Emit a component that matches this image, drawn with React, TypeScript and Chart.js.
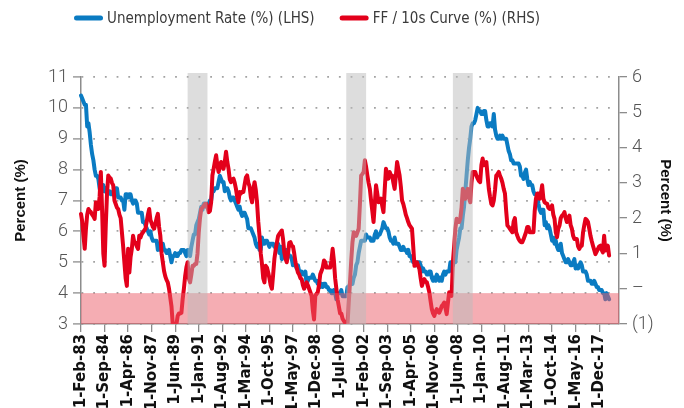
import React, { useEffect, useRef } from "react";
import { Chart, registerables } from "chart.js";

Chart.register(...registerables);

// ---------- categories (monthly, 1-Feb-83 onwards) ----------
const START_YEAR = 1983;
const START_MONTH = 1; // February (0-based)
const AXIS_MONTHS = 435;
const LABEL_STEP = 19;
const MONTH_NAMES = ["Jan", "Feb", "Mar", "Apr", "May", "Jun", "Jul", "Aug", "Sep", "Oct", "Nov", "Dec"];

const categories: string[] = Array.from({ length: AXIS_MONTHS }, (_, i) => {
  const m = (START_MONTH + i) % 12;
  const y = START_YEAR + Math.floor((START_MONTH + i) / 12);
  return `1-${MONTH_NAMES[m]}-${String(y % 100).padStart(2, "0")}`;
});

// ---------- series ----------
const unemploymentLabel = "Unemployment Rate (%) (LHS)";
const curveLabel = "FF / 10s Curve (%) (RHS)";

const unemployment: number[] = [
  10.4, 10.3, 10.2, 10.1, 10.1, 9.4, 9.5, 9.2, 8.8, 8.5, 8.3,
  8.0, 7.8, 7.8, 7.7, 7.4, 7.2, 7.5, 7.5, 7.3, 7.4, 7.2, 7.3,
  7.3, 7.2, 7.2, 7.3, 7.2, 7.4, 7.4, 7.1, 7.1, 7.1, 7.0, 7.0,
  6.7, 7.2, 7.2, 7.1, 7.2, 7.2, 7.0, 6.9, 7.0, 7.0, 6.9, 6.6,
  6.6, 6.6, 6.6, 6.3, 6.3, 6.2, 6.1, 6.0, 5.9, 6.0, 5.8, 5.7,
  5.7, 5.7, 5.7, 5.4, 5.6, 5.4, 5.4, 5.6, 5.4, 5.4, 5.3, 5.3,
  5.4, 5.2, 5.0, 5.2, 5.2, 5.3, 5.2, 5.2, 5.3, 5.3, 5.4, 5.4,
  5.4, 5.3, 5.2, 5.4, 5.4, 5.2, 5.5, 5.7, 5.9, 5.9, 6.2, 6.3,
  6.4, 6.6, 6.8, 6.7, 6.9, 6.9, 6.8, 6.9, 6.9, 7.0, 7.0, 7.3,
  7.3, 7.4, 7.4, 7.4, 7.6, 7.8, 7.7, 7.6, 7.6, 7.3, 7.4, 7.4,
  7.3, 7.1, 7.0, 7.1, 7.1, 7.0, 6.9, 6.8, 6.7, 6.8, 6.6, 6.5,
  6.6, 6.6, 6.5, 6.4, 6.1, 6.1, 6.1, 6.0, 5.9, 5.8, 5.6, 5.5,
  5.6, 5.4, 5.4, 5.8, 5.6, 5.6, 5.7, 5.7, 5.6, 5.5, 5.6, 5.6,
  5.6, 5.5, 5.5, 5.6, 5.6, 5.3, 5.5, 5.1, 5.2, 5.2, 5.4, 5.4,
  5.3, 5.2, 5.2, 5.1, 4.9, 5.0, 4.9, 4.8, 4.9, 4.7, 4.6, 4.7,
  4.6, 4.6, 4.7, 4.3, 4.4, 4.5, 4.5, 4.5, 4.6, 4.5, 4.4, 4.4,
  4.3, 4.4, 4.2, 4.3, 4.2, 4.3, 4.3, 4.2, 4.2, 4.1, 4.1, 4.0,
  4.0, 4.1, 4.0, 3.8, 4.0, 4.0, 4.0, 4.1, 3.9, 3.9, 3.9, 3.9,
  4.2, 4.2, 4.3, 4.4, 4.3, 4.5, 4.6, 4.9, 5.0, 5.3, 5.5, 5.7,
  5.7, 5.7, 5.7, 5.9, 5.8, 5.8, 5.8, 5.7, 5.7, 5.7, 5.9, 6.0,
  5.8, 5.9, 5.9, 6.0, 6.1, 6.3, 6.2, 6.1, 6.1, 6.0, 5.8, 5.7,
  5.7, 5.6, 5.8, 5.6, 5.6, 5.6, 5.5, 5.4, 5.4, 5.5, 5.4, 5.4,
  5.3, 5.4, 5.2, 5.2, 5.1, 5.0, 5.0, 4.9, 5.0, 5.0, 5.0, 4.9,
  4.7, 4.8, 4.7, 4.7, 4.6, 4.6, 4.7, 4.7, 4.5, 4.4, 4.5, 4.4,
  4.6, 4.5, 4.4, 4.5, 4.4, 4.6, 4.7, 4.6, 4.7, 4.7, 4.7, 5.0,
  5.0, 4.9, 5.1, 5.0, 5.4, 5.6, 5.8, 6.1, 6.1, 6.5, 6.8, 7.3,
  7.8, 8.3, 8.7, 9.0, 9.4, 9.5, 9.5, 9.6, 9.8, 10.0, 9.9, 9.9,
  9.8, 9.8, 9.9, 9.9, 9.6, 9.4, 9.4, 9.5, 9.5, 9.4, 9.8, 9.3,
  9.1, 9.0, 9.0, 9.1, 9.0, 9.1, 9.0, 9.0, 9.0, 8.8, 8.6, 8.5,
  8.3, 8.3, 8.2, 8.2, 8.2, 8.2, 8.2, 8.1, 7.8, 7.8, 7.7, 7.9,
  8.0, 7.7, 7.5, 7.6, 7.5, 7.5, 7.3, 7.2, 7.2, 7.2, 6.9, 6.7,
  6.6, 6.7, 6.7, 6.2, 6.3, 6.1, 6.2, 6.1, 5.9, 5.7, 5.8, 5.6,
  5.7, 5.5, 5.4, 5.4, 5.6, 5.3, 5.2, 5.1, 5.0, 5.0, 5.1, 5.0,
  4.9, 4.9, 5.0, 5.1, 4.8, 4.9, 4.8, 4.9, 5.0, 4.9, 4.7, 4.7,
  4.7, 4.6, 4.4, 4.4, 4.4, 4.3, 4.3, 4.4, 4.3, 4.2, 4.2, 4.1,
  4.1, 4.1, 4.0, 4.0, 3.8, 4.0, 3.9, 3.8,
];

const ffTensCurve: number[] = [
  2.12, 1.9, 1.5, 1.13, 1.7, 2.1, 2.26, 2.2, 2.17, 2.1, 2.05,
  1.98, 2.45, 2.35, 2.26, 2.6, 3.31, 2.26, 1.0, 0.65, 1.8, 2.7, 3.21,
  3.15, 3.12, 3.0, 2.93, 2.5, 2.4, 2.3, 2.26, 2.1, 2.0, 1.6, 1.2,
  0.75, 0.3, 0.08, 1.13, 0.46, 0.9, 1.13, 1.5, 1.32, 1.3, 1.2, 1.13,
  1.5, 1.45, 1.55, 1.6, 1.65, 1.7, 1.9, 2.1, 2.26, 1.95, 1.85, 1.75,
  1.7, 1.85, 2.0, 2.12, 1.75, 1.5, 1.0, 0.75, 0.5, 0.35, 0.25, 0.18,
  0.0, -0.25, -0.5, -1.0, -1.0, -1.0, -1.0, -0.77, -0.7, -0.7, -0.68, -0.3,
  0.0, 0.35, 0.6, 0.75, 0.3, 0.18, 0.4, 0.65, 0.65, 0.7, 0.7, 1.0,
  1.6, 2.0, 2.26, 2.3, 2.35, 2.4, 2.41, 2.3, 2.17, 2.2, 2.45, 3.21,
  3.4, 3.6, 3.78, 3.5, 3.31, 3.45, 3.59, 3.45, 3.4, 3.6, 3.88, 3.6,
  3.4, 3.1, 3.02, 3.1, 3.12, 3.0, 2.83, 2.6, 2.45, 2.74, 2.7, 2.75,
  2.74, 2.95, 3.15, 3.21, 3.0, 2.9, 2.6, 2.45, 2.8, 3.02, 2.8, 2.45,
  1.9, 1.5, 1.0, 0.7, 0.3, 0.18, 0.65, 0.6, 0.46, 0.3, 0.1, 0.0,
  0.4, 0.84, 1.1, 1.3, 1.5, 1.55, 1.6, 1.65, 1.4, 1.03, 0.85, 0.75,
  1.0, 1.3, 1.32, 1.22, 1.2, 1.0, 0.75, 0.6, 0.46, 0.4, 0.3, 0.27,
  0.1, 0.0, 0.1, 0.18, 0.1, 0.0, -0.1, -0.2, -0.6, -0.87, -0.2, -0.15,
  -0.1, 0.1, 0.41, 0.5, 0.6, 0.8, 0.75, 0.6, 0.6, 0.6, 0.6, 0.8,
  1.13, 0.8, 0.3, 0.0, -0.3, -0.5, -0.7, -0.7, -0.85, -0.91, -0.96, -1.0,
  -1.0, -0.4, 0.18, 0.8, 1.32, 1.6, 1.55, 1.5, 1.6, 1.7, 2.4, 3.21,
  3.25, 3.31, 3.64, 3.45, 3.21, 3.0, 2.83, 2.5, 2.2, 1.89, 2.4, 2.93,
  2.7, 2.45, 2.5, 2.55, 2.35, 2.17, 2.8, 3.4, 3.25, 3.12, 3.31, 3.21,
  3.21, 3.0, 2.83, 3.2, 3.59, 3.4, 3.21, 2.9, 2.5, 2.4, 2.26, 2.1,
  2.0, 1.89, 1.8, 1.75, 1.7, 1.2, 0.65, 0.7, 0.75, 0.65, 0.56, 0.3,
  0.08, 0.2, 0.27, 0.2, 0.18, 0.05, -0.1, -0.35, -0.58, -0.7, -0.77, -0.65,
  -0.58, -0.65, -0.68, -0.6, -0.49, -0.45, -0.39, -0.55, -0.72, -0.4, -0.1, -0.15,
  -0.2, 0.75, 1.2, 1.7, 1.98, 1.9, 1.89, 2.0, 2.3, 2.83, 2.7, 2.55,
  2.7, 2.83, 2.6, 2.45, 3.0, 3.31, 3.31, 3.31, 3.2, 3.12, 3.05, 3.02,
  3.5, 3.69, 3.5, 3.55, 3.59, 3.2, 2.83, 2.6, 2.4, 2.36, 2.5, 2.8,
  3.21, 3.25, 3.31, 3.2, 3.12, 3.0, 2.83, 2.7, 2.2, 1.79, 1.75, 1.7,
  1.65, 1.6, 1.9, 2.0, 1.6, 1.5, 1.41, 1.35, 1.32, 1.32, 1.4, 1.5,
  1.6, 1.75, 1.75, 1.6, 1.6, 1.6, 1.6, 2.2, 2.55, 2.7, 2.7, 2.55,
  2.7, 2.93, 2.55, 2.45, 2.42, 2.41, 2.3, 2.26, 2.3, 2.36, 2.1, 1.98,
  1.6, 1.46, 1.7, 1.79, 2.0, 2.07, 2.1, 2.17, 2.0, 1.89, 2.0, 2.07,
  1.8, 1.7, 1.5, 1.41, 1.41, 1.41, 1.2, 1.13, 1.2, 1.22, 1.6, 1.8,
  1.98, 1.95, 1.89, 1.7, 1.5, 1.35, 1.22, 1.1, 0.98, 1.05, 1.13, 1.2,
  1.22, 1.1, 1.03, 1.5, 1.08, 1.15, 1.22, 0.94,
];

// shaded periods (recessions) and the sub-4% unemployment band
const recessions: [string, string][] = [
  ["1-Apr-90", "1-Aug-91"],
  ["1-Dec-00", "1-Apr-02"],
  ["1-Feb-08", "1-Jun-09"],
];
const lowBand: [number, number] = [3, 4];

const leftTicks = { min: 3, max: 11, step: 1 };
const rightTicks = { min: -1, max: 6, step: 1 };

const BLUE = "#0a7bc2";
const RED = "#e3001b";

const overlayPlugin = {
  id: "overlays",
  afterDatasetsDraw(chart: any) {
    const { ctx, chartArea, scales } = chart;
    const xs = scales.x;
    const ys = scales.y;
    ctx.save();
    ctx.fillStyle = "rgba(236,92,104,0.5)";
    const yTop = ys.getPixelForValue(lowBand[1]);
    const yBot = ys.getPixelForValue(lowBand[0]);
    ctx.fillRect(chartArea.left, yTop, chartArea.right - chartArea.left, yBot - yTop);
    ctx.fillStyle = "rgba(188,188,188,0.5)";
    recessions.forEach(([s, e]) => {
      const x1 = xs.getPixelForValue(categories.indexOf(s));
      const x2 = xs.getPixelForValue(categories.indexOf(e));
      ctx.fillRect(x1, chartArea.top - 4, x2 - x1, chartArea.bottom - chartArea.top + 4);
    });
    ctx.restore();
  },
};

const legendPlugin = {
  id: "topLegend",
  afterDraw(chart: any) {
    const { ctx } = chart;
    ctx.save();
    ctx.font = '15px "Liberation Sans Narrow", "DejaVu Sans Condensed", "Roboto", sans-serif';
    ctx.textBaseline = "middle";
    ctx.textAlign = "left";
    let x = 74;
    const y = 18;
    chart.data.datasets.forEach((ds: any) => {
      ctx.strokeStyle = ds.borderColor;
      ctx.lineWidth = 5;
      ctx.lineCap = "round";
      ctx.beginPath();
      ctx.moveTo(x + 2.5, y);
      ctx.lineTo(x + 26.5, y);
      ctx.stroke();
      ctx.fillStyle = "#3a3a3a";
      ctx.fillText(ds.label, x + 33, y + 1);
      x += 33 + ctx.measureText(ds.label).width + 25;
    });
    ctx.restore();
  },
};

const numFont = { family: "Roboto, 'DejaVu Sans', sans-serif", size: 18, weight: 300 as any };
const titleFont = { family: "'Liberation Sans', Arial, sans-serif", size: 15, weight: "bold" as any };

export default function App() {
  const canvasRef = useRef<HTMLCanvasElement | null>(null);

  useEffect(() => {
    if (!canvasRef.current) return;
    const chart = new Chart(canvasRef.current, {
      type: "line",
      data: {
        labels: categories,
        datasets: [
          {
            label: unemploymentLabel,
            data: unemployment,
            borderColor: BLUE,
            backgroundColor: BLUE,
            borderWidth: 4,
            pointRadius: 0,
            tension: 0,
            yAxisID: "y",
            order: 2,
            borderJoinStyle: "round",
            borderCapStyle: "round",
          },
          {
            label: curveLabel,
            data: ffTensCurve,
            borderColor: RED,
            backgroundColor: RED,
            borderWidth: 4,
            pointRadius: 0,
            tension: 0,
            yAxisID: "y1",
            order: 1,
            borderJoinStyle: "round",
            borderCapStyle: "round",
          },
        ],
      },
      options: {
        responsive: true,
        maintainAspectRatio: false,
        animation: false,
        layout: { padding: { top: 77, left: 0, right: 0, bottom: 0 } },
        plugins: {
          legend: { display: false },
          tooltip: { enabled: false },
        },
        scales: {
          x: {
            type: "category",
            offset: false,
            grid: {
              display: true,
              drawOnChartArea: false,
              drawTicks: true,
              tickLength: 8,
              color: "#8c8c8c",
              lineWidth: 1.3,
            },
            border: { display: true, color: "#8c8c8c", width: 1.5 },
            ticks: {
              autoSkip: false,
              maxRotation: 90,
              minRotation: 90,
              padding: 2,
              color: "#111",
              font: { family: "'DejaVu Sans', sans-serif", size: 15, weight: "bold" },
            },
            afterBuildTicks: (s: any) => {
              s.ticks = s.ticks.filter((t: any) => t.value % LABEL_STEP === 0);
            },
            afterFit: (s: any) => {
              s.height = 84;
            },
          },
          y: {
            position: "left",
            min: leftTicks.min,
            max: leftTicks.max,
            ticks: { stepSize: leftTicks.step, padding: 5, color: "#555", font: numFont },
            grid: {
              color: "#a2a2a2",
              lineWidth: 1.8,
              drawTicks: true,
              tickLength: 8,
              tickColor: "#8c8c8c",
              tickWidth: 1.3,
              tickBorderDash: [10, 0],
            },
            border: { display: true, color: "#8c8c8c", width: 1.5, dash: [1.8, 9.9] },
            title: {
              display: true,
              text: "Percent (%)",
              color: "#111",
              font: titleFont,
              padding: { top: 12, bottom: 0 },
            },
            afterFit: (s: any) => {
              s.width = 81;
            },
          },
          y1: {
            position: "right",
            min: rightTicks.min,
            max: rightTicks.max,
            ticks: {
              stepSize: rightTicks.step,
              padding: 5,
              color: "#555",
              font: numFont,
              callback: (v: any) => (v === 0 ? "–" : v < 0 ? `(${Math.abs(v)})` : `${v}`),
            },
            grid: {
              drawOnChartArea: false,
              drawTicks: true,
              tickLength: 8,
              color: "#8c8c8c",
              lineWidth: 1.3,
            },
            border: { display: true, color: "#8c8c8c", width: 1.5 },
            title: {
              display: true,
              text: "Percent (%)",
              color: "#111",
              font: titleFont,
              padding: { top: 10, bottom: 0 },
            },
            afterFit: (s: any) => {
              s.width = 65;
            },
          },
        },
      },
      plugins: [overlayPlugin, legendPlugin],
    } as any);
    return () => chart.destroy();
  }, []);

  return (
    <div style={{ position: "absolute", left: 0, top: 0, width: 684, height: 408 }}>
      <canvas ref={canvasRef} />
    </div>
  );
}
